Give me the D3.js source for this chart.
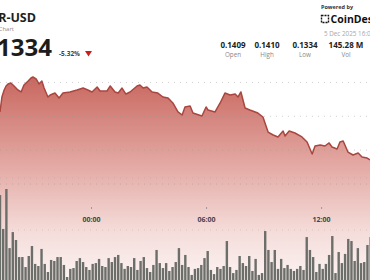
<!doctype html>
<html>
  <head>
    <script src="https://cdn.jsdelivr.net/npm/d3@7"></script>
    <style>
      body { margin: 0; overflow: hidden; background: #fff; }
      text { font-family: "Open Sans", "Noto Sans", sans-serif; }
    </style>
  </head>
  <body>
    <script>
    // price line points (UTC)
    var priceTimes = [
      "2025-12-04 19:15","2025-12-04 19:21","2025-12-04 19:28","2025-12-04 19:34","2025-12-04 19:40",
      "2025-12-04 19:49","2025-12-04 19:59","2025-12-04 20:11","2025-12-04 20:21","2025-12-04 20:30",
      "2025-12-04 20:43","2025-12-04 20:52","2025-12-04 20:58","2025-12-04 21:08","2025-12-04 21:17",
      "2025-12-04 21:26","2025-12-04 21:33","2025-12-04 21:45","2025-12-04 21:52","2025-12-04 22:07",
      "2025-12-04 22:20","2025-12-04 22:32","2025-12-04 22:54","2025-12-04 23:16","2025-12-04 23:35",
      "2025-12-04 23:50","2025-12-05 00:03","2025-12-05 00:19","2025-12-05 00:28","2025-12-05 00:50",
      "2025-12-05 01:00","2025-12-05 01:15","2025-12-05 01:25","2025-12-05 01:37","2025-12-05 01:49",
      "2025-12-05 02:02","2025-12-05 02:24","2025-12-05 02:33","2025-12-05 02:43","2025-12-05 02:55",
      "2025-12-05 03:11","2025-12-05 03:29","2025-12-05 03:45","2025-12-05 04:01","2025-12-05 04:16",
      "2025-12-05 04:32","2025-12-05 04:45","2025-12-05 04:54","2025-12-05 05:10","2025-12-05 05:19",
      "2025-12-05 05:47","2025-12-05 06:00","2025-12-05 06:06","2025-12-05 06:28","2025-12-05 06:44",
      "2025-12-05 06:59","2025-12-05 07:15","2025-12-05 07:31","2025-12-05 07:40","2025-12-05 07:49",
      "2025-12-05 08:02","2025-12-05 08:17","2025-12-05 08:42","2025-12-05 08:58","2025-12-05 09:14",
      "2025-12-05 09:30","2025-12-05 09:45","2025-12-05 10:01","2025-12-05 10:07","2025-12-05 10:20",
      "2025-12-05 10:38","2025-12-05 11:00","2025-12-05 11:16","2025-12-05 11:32","2025-12-05 11:41",
      "2025-12-05 11:57","2025-12-05 12:12","2025-12-05 12:25","2025-12-05 12:34","2025-12-05 12:50",
      "2025-12-05 12:59","2025-12-05 13:09","2025-12-05 13:24","2025-12-05 13:40","2025-12-05 13:56",
      "2025-12-05 14:08","2025-12-05 14:24","2025-12-05 14:33"
    ];
    var prices = [
      0.13780,0.13917,0.13981,0.14018,0.14036,0.14045,0.14018,0.13981,0.13963,0.14027,
      0.14063,0.14091,0.14100,0.14082,0.14036,0.14063,0.13999,0.13917,0.13935,0.13953,
      0.13908,0.13953,0.13963,0.13981,0.13999,0.13981,0.13963,0.14008,0.13972,0.13972,
      0.14018,0.13963,0.13953,0.13999,0.13944,0.13963,0.14018,0.14027,0.13999,0.14008,
      0.13963,0.13953,0.13917,0.13908,0.13862,0.13780,0.13752,0.13825,0.13834,0.13770,
      0.13743,0.13825,0.13798,0.13780,0.13862,0.13953,0.13935,0.13944,0.13917,0.13963,
      0.13816,0.13798,0.13770,0.13734,0.13596,0.13569,0.13551,0.13606,0.13560,0.13606,
      0.13587,0.13551,0.13505,0.13395,0.13468,0.13477,0.13468,0.13496,0.13459,0.13441,
      0.13505,0.13514,0.13413,0.13386,0.13404,0.13367,0.13358,0.13340
    ];

    // 10 minute volume bars, millions, first bar starts 19:10
    var volStart = "2025-12-04 19:10";
    var volumes = [
      4.18,2.55,4.47,1.63,2.40,2.02,1.20,1.20,0.72,1.25,1.73,0.87,0.77,1.59,0.87,0.48,1.06,1.01,1.20,1.20,
      0.82,0.24,0.63,0.67,1.01,1.15,0.96,0.72,0.58,0.87,0.91,1.11,0.77,0.72,1.15,0.96,1.20,1.30,0.91,0.63,
      0.77,0.72,1.15,0.58,1.01,1.20,0.67,0.48,0.82,1.54,0.91,0.67,0.91,0.53,0.72,0.96,1.63,0.82,1.30,
      0.72,0.34,0.63,0.67,0.82,1.15,1.49,0.58,0.38,0.72,0.63,0.77,1.97,0.72,0.43,0.58,1.25,0.91,0.77,
      1.25,0.53,1.11,0.34,0.43,2.45,1.54,0.96,1.54,0.63,1.11,0.67,0.82,0.63,0.53,0.63,0.77,0.58,2.16,
      1.54,1.20,0.48,0.87,0.63,0.87,1.30,2.21,0.43,1.44,0.91,1.35,2.07,1.97,1.01,1.63,0.91,0.96,1.78,2.16
    ];

    var timeTicks = ["2025-12-05 00:00", "2025-12-05 06:00", "2025-12-05 12:00"];
    var priceGrid = [0.1405, 0.1374, 0.1343, 0.1312];
    var volGrid = [2.5, 5];

    var statValues = ["0.1409", "0.1410", "0.1334", "145.28 M"];
    var statLabels = ["Open", "High", "Low", "Vol"];

    var width = 370;
    var height = 280;
    var parse = d3.utcParse("%Y-%m-%d %H:%M");

    var svg = d3.select("body")
              .append("svg")
              .attr("width", width)
              .attr("height", height);

//Scales
    var xScale = d3.scaleUtc()
                  .domain([parse("2025-12-04 19:15"), parse("2025-12-05 14:33")])
                  .range([0, width]);

    var yScale = d3.scaleLinear()
                  .domain([0.1334, 0.1410])
                  .range([160, 77]);

    var vScale = d3.scaleLinear()
                  .domain([0, 5])
                  .range([282, 178]);

    var priceData = priceTimes.map(function(t, i) { return {t: parse(t), p: prices[i]}; });
    var volData = volumes.map(function(v, i) {
      return {t: d3.utcMinute.offset(parse(volStart), i * 10), v: v};
    });

//Gradient under the line
    var grad = svg.append("defs")
                .append("linearGradient")
                .attr("id", "fade")
                .attr("gradientUnits", "userSpaceOnUse")
                .attr("x1", 0).attr("y1", 77)
                .attr("x2", 0).attr("y2", 282);
    grad.append("stop").attr("offset", 0).attr("stop-color", "#c8675f");
    grad.append("stop").attr("offset", 0.45).attr("stop-color", "#e5aca7");
    grad.append("stop").attr("offset", 0.75).attr("stop-color", "#f4dcd9");
    grad.append("stop").attr("offset", 1).attr("stop-color", "#fcf4f3");

    var area = d3.area()
                .x(function(d) { return xScale(d.t); })
                .y0(height)
                .y1(function(d) { return yScale(d.p); });

    svg.append("path")
      .datum(priceData)
      .attr("d", area)
      .attr("fill", "url(#fade)");

//Dotted grid lines
    svg.selectAll(".pgrid")
      .data(priceGrid)
      .enter()
        .append("line")
        .attr("x1", 0)
        .attr("x2", width)
        .attr("y1", function(d) { return yScale(d); })
        .attr("y2", function(d) { return yScale(d); })
        .attr("stroke", "#9a9a9a")
        .attr("stroke-opacity", 0.45)
        .attr("stroke-dasharray", "1,5");

    svg.selectAll(".vgrid")
      .data(volGrid)
      .enter()
        .append("line")
        .attr("x1", 0)
        .attr("x2", width)
        .attr("y1", function(d) { return vScale(d); })
        .attr("y2", function(d) { return vScale(d); })
        .attr("stroke", "#9a9a9a")
        .attr("stroke-opacity", 0.35)
        .attr("stroke-dasharray", "1,5");

//Price line
    var line = d3.line()
                .x(function(d) { return xScale(d.t); })
                .y(function(d) { return yScale(d.p); });

    svg.append("path")
      .datum(priceData)
      .attr("d", line)
      .attr("fill", "none")
      .attr("stroke", "#a9463f")
      .attr("stroke-width", 1.5)
      .attr("stroke-linejoin", "round");

//Volume bars
    svg.selectAll(".bar")
      .data(volData)
      .enter()
        .append("rect")
        .attr("x", function(d) { return xScale(d.t) + 0.4; })
        .attr("width", function(d) { return xScale(d3.utcMinute.offset(d.t, 10)) - xScale(d.t) - 0.8; })
        .attr("y", function(d) { return vScale(d.v); })
        .attr("height", function(d) { return vScale(0) - vScale(d.v); })
        .attr("fill", "#6c6e6a");

//Time axis
    var xAxis = d3.axisBottom(xScale)
                .tickValues(timeTicks.map(parse))
                .tickSize(2)
                .tickPadding(8)
                .tickFormat(d3.utcFormat("%H:%M"));

    var ax = svg.append("g")
              .attr("transform", "translate(0,207)")
              .call(xAxis);
    ax.select(".domain").remove();
    ax.selectAll("line").attr("stroke", "#999");
    ax.selectAll("text")
      .attr("fill", "#444")
      .attr("font-family", "Open Sans, sans-serif")
      .attr("font-weight", "bold")
      .style("font-size", "7px");

//Header
    svg.append("text")
      .attr("x", 36)
      .attr("y", 21.5)
      .attr("text-anchor", "end")
      .attr("font-weight", "bold")
      .attr("fill", "#1f1f1f")
      .style("font-size", "12.5px")
      .text("HBAR-USD");

    svg.append("text")
      .attr("x", 14)
      .attr("y", 30.5)
      .attr("text-anchor", "end")
      .attr("fill", "#8a8a8a")
      .style("font-size", "6px")
      .text("HBAR Price Chart");

    svg.append("text")
      .attr("x", 52)
      .attr("y", 56)
      .attr("text-anchor", "end")
      .attr("font-weight", "bold")
      .attr("fill", "#1c1c1c")
      .style("font-size", "24px")
      .text("0.1334");

    svg.append("text")
      .attr("x", 59)
      .attr("y", 56)
      .attr("font-weight", "bold")
      .attr("fill", "#444")
      .style("font-size", "6.5px")
      .text("-5.32%");

    svg.append("path")
      .attr("d", "M85,51 L92,51 L88.5,56.5 Z")
      .attr("fill", "#c62020");

    svg.append("text")
      .attr("x", 321)
      .attr("y", 9)
      .attr("font-weight", "bold")
      .attr("fill", "#333")
      .style("font-size", "5.5px")
      .text("Powered by");

    svg.append("rect")
      .attr("x", 321.5)
      .attr("y", 15.5)
      .attr("width", 7)
      .attr("height", 7)
      .attr("fill", "none")
      .attr("stroke", "#111")
      .attr("stroke-width", 1.4)
      .attr("stroke-dasharray", "2,1");

    svg.append("text")
      .attr("x", 330.5)
      .attr("y", 23)
      .attr("font-weight", "bold")
      .attr("fill", "#111")
      .style("font-size", "10.5px")
      .text("CoinDesk");

    svg.append("text")
      .attr("x", 324)
      .attr("y", 35.5)
      .attr("fill", "#a8a8a8")
      .style("font-size", "6.3px")
      .text("5 Dec 2025 16:00 UTC");

    var statX = [233, 267, 305, 346];

    svg.selectAll(".sval")
      .data(statValues)
      .enter()
        .append("text")
        .attr("x", function(d, i) { return statX[i]; })
        .attr("y", 47.5)
        .attr("text-anchor", "middle")
        .attr("font-weight", "bold")
        .attr("fill", "#222")
        .style("font-size", "8px")
        .text(function(d) { return d; });

    svg.selectAll(".slab")
      .data(statLabels)
      .enter()
        .append("text")
        .attr("x", function(d, i) { return statX[i]; })
        .attr("y", 57)
        .attr("text-anchor", "middle")
        .attr("fill", "#8a8a8a")
        .style("font-size", "6.3px")
        .text(function(d) { return d; });
    </script>
  </body>
</html>
